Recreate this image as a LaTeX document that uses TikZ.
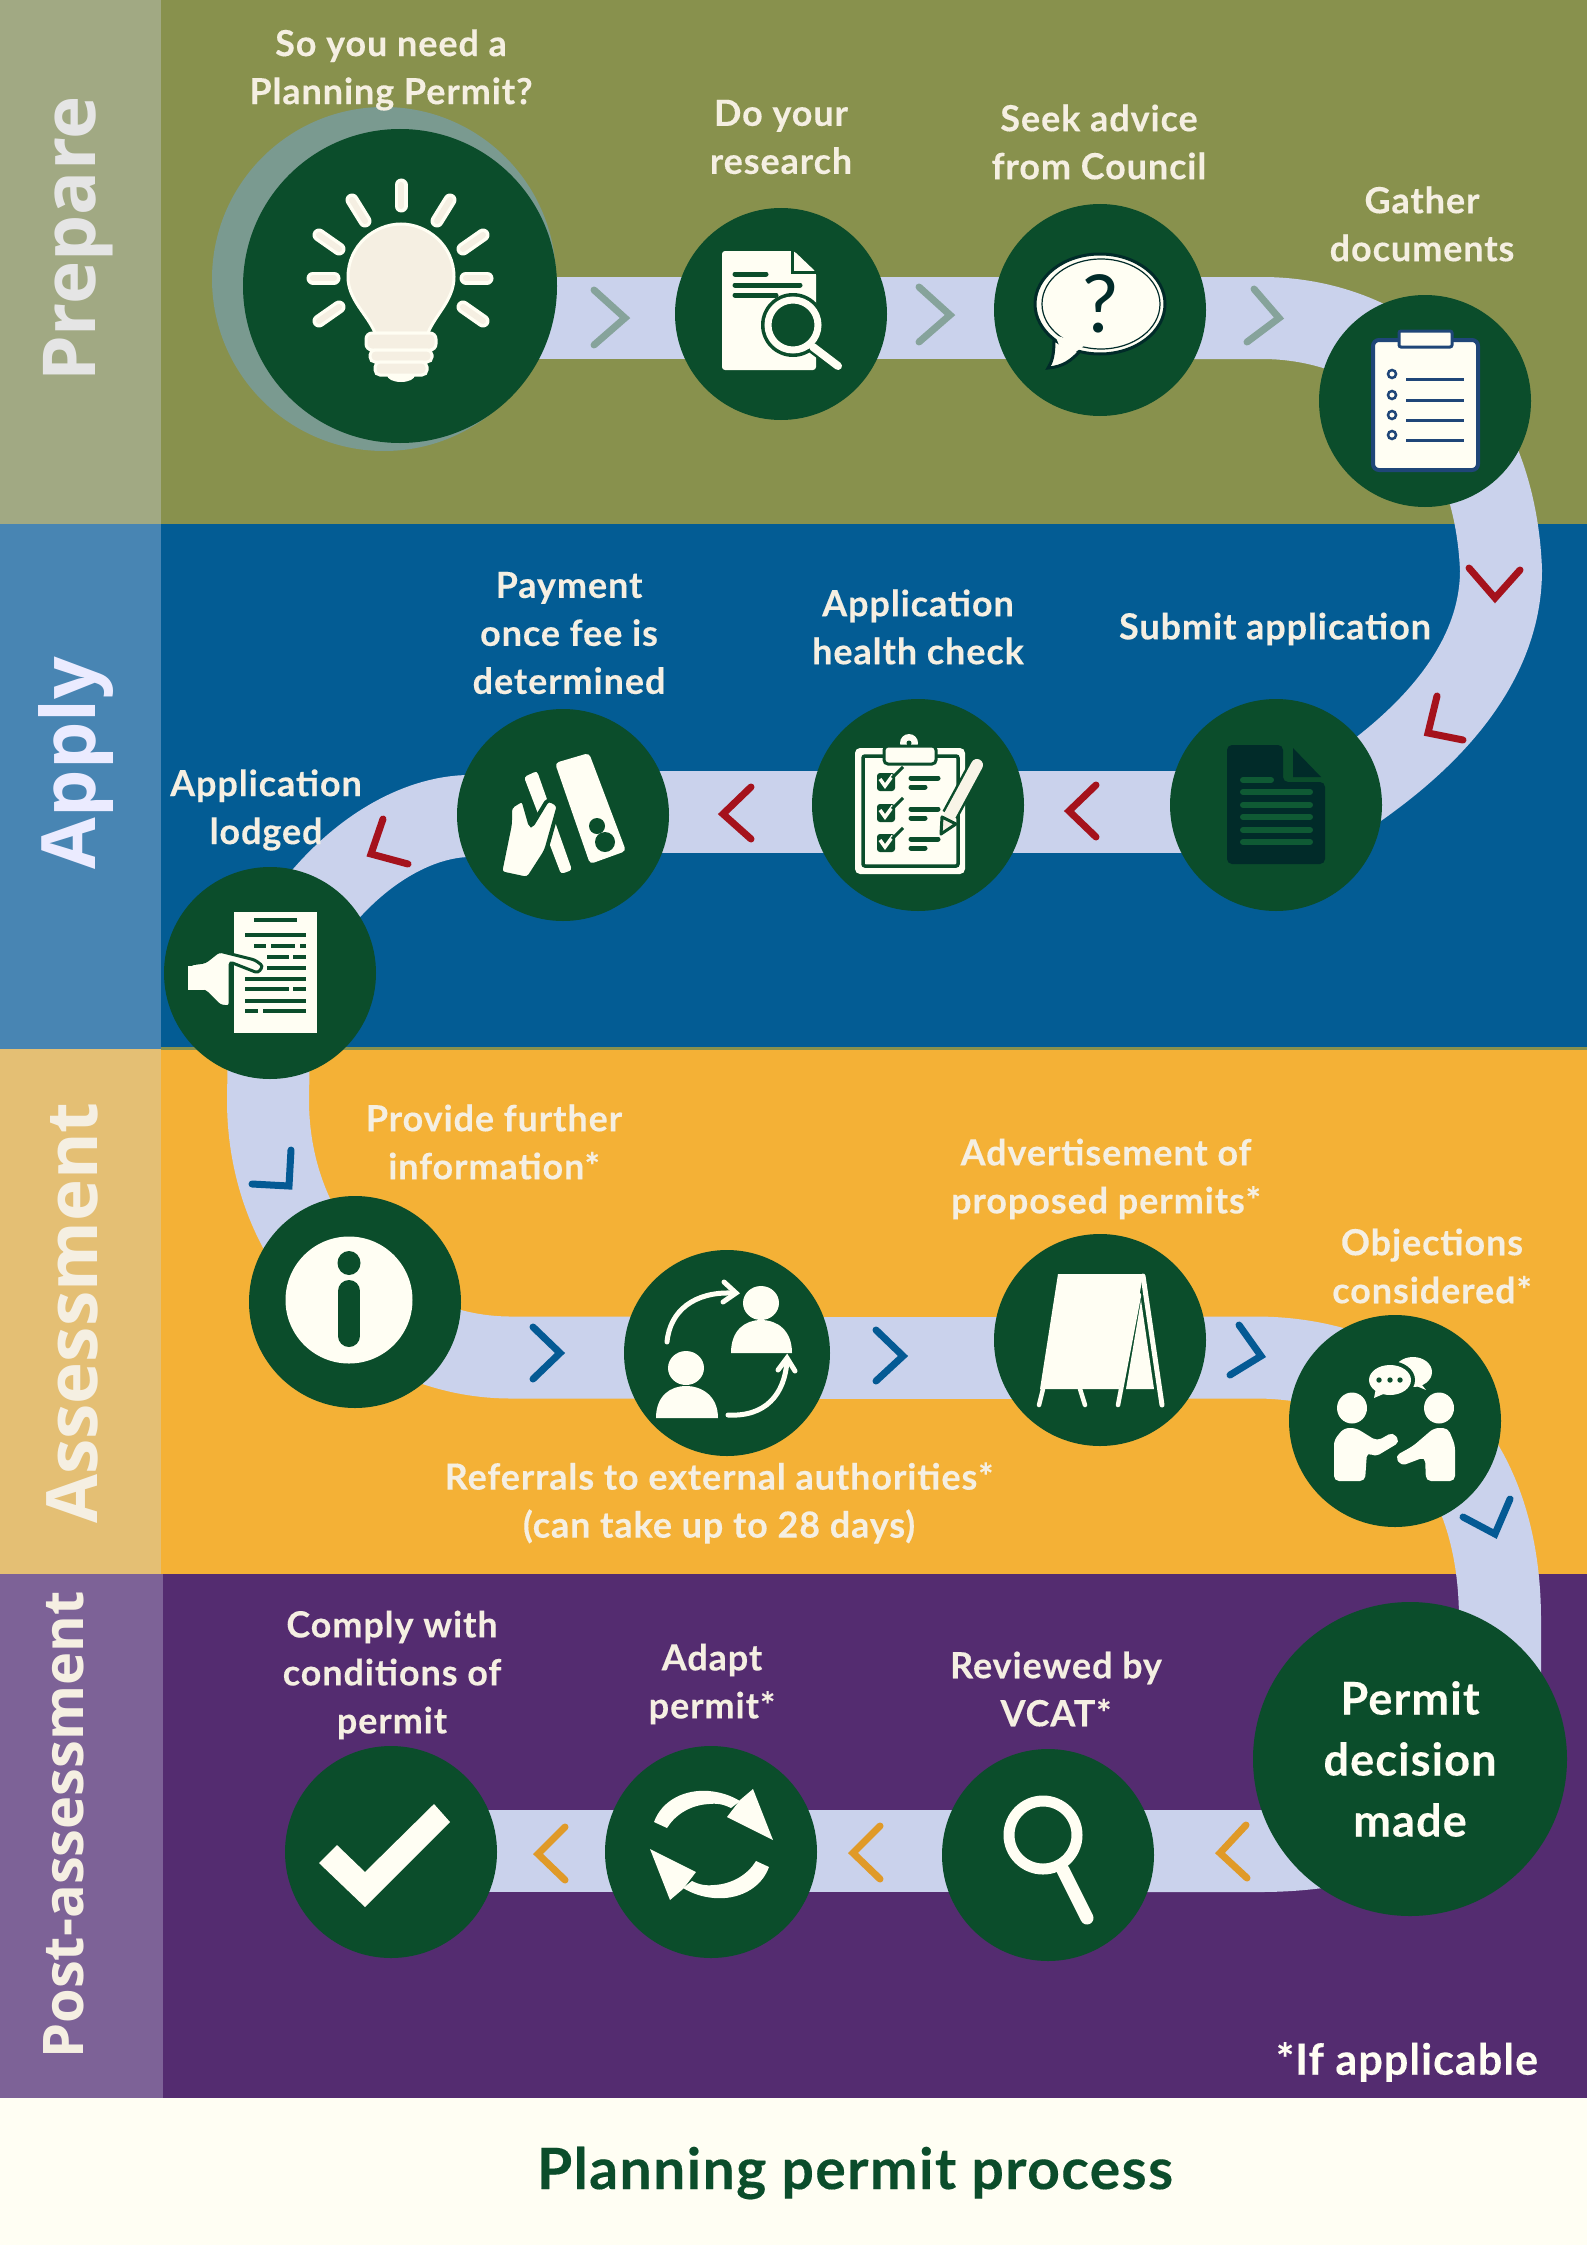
\documentclass[tikz,border=0pt]{standalone}
\usepackage{fontspec}
\setmainfont{Lato}[LetterSpace=2.5,BoldFeatures={FakeBold=0.25}]
\newfontfamily\sidefont{Open Sans}
\definecolor{olive}{HTML}{88914D}
\definecolor{olivepanel}{HTML}{A1A983}
\definecolor{bluebg}{HTML}{035C94}
\definecolor{bluepanel}{HTML}{4885B3}
\definecolor{amber}{HTML}{F4B136}
\definecolor{amberpanel}{HTML}{E4BF74}
\definecolor{plum}{HTML}{542C70}
\definecolor{plumpanel}{HTML}{7D6297}
\definecolor{paper}{HTML}{FFFEF3}
\definecolor{cream}{HTML}{F5EFE2}
\definecolor{stepgreen}{HTML}{0B4D2B}
\definecolor{roadblue}{HTML}{CAD2EC}
\definecolor{sage}{HTML}{86A39B}
\definecolor{crimson}{HTML}{A5121C}
\definecolor{chevblue}{HTML}{045A94}
\definecolor{chevamber}{HTML}{E09A28}
\definecolor{clipblue}{HTML}{1F4678}
\definecolor{inkdark}{HTML}{012B29}
\definecolor{inkgreen}{HTML}{0F5A34}
\pgfdeclarelayer{bands}
\pgfdeclarelayer{road}
\pgfsetlayers{bands,road,main}
\tikzset{
 stepdot/.style={circle,fill=stepgreen,minimum size=212pt,inner sep=0pt},
 stepbig/.style={circle,fill=stepgreen,minimum size=314pt,inner sep=0pt},
 steplabel/.style={align=center,text=cream,inner sep=0pt,font=\fontsize{36}{48}\selectfont\bfseries},
 sidelabel/.style={rotate=90,anchor=base,inner sep=0pt},
 roadline/.style={draw=roadblue,line width=82pt,line join=round},
 chev/.style={line width=7pt,line cap=round,miter limit=10},
 inkline/.style={stepgreen,line width=5pt,line cap=round},
 ray/.style={paper,line width=13pt,line cap=round},
 rayin/.style={cream,line width=6pt,line cap=round},
}
\begin{document}
\begin{tikzpicture}[x=1pt,y=-1pt]
 \useasboundingbox (0,0) rectangle (1587,2245);
 \begin{pgfonlayer}{bands}
 \fill[olive](0,0) rectangle (1587,524);
 \fill[bluebg](0,524) rectangle (1587,1049);
 \fill[amber](0,1049) rectangle (1587,1574);
 \fill[plum](0,1574) rectangle (1587,2098);
 \fill[paper](0,2098) rectangle (1587,2245);
 \fill[olive](0,1047) rectangle (1587,1049.5);
 \fill[olivepanel](0,0) rectangle (161,524);
 \fill[bluepanel](0,524) rectangle (161,1049);
 \fill[amberpanel](0,1049) rectangle (161,1574);
 \fill[plumpanel](0,1574) rectangle (163,2098);
 \end{pgfonlayer}
 \node[sidelabel,text=white!90!black,font=\sidefont\fontsize{73}{80}\selectfont\bfseries] (prepare) at (95,239) {Prepare};
 \node[sidelabel,text=white!92!blue,font=\sidefont\fontsize{75}{80}\selectfont\bfseries] (apply) at (95,763) {Apply};
 \node[sidelabel,text=cream,font=\sidefont\fontsize{71}{80}\selectfont\bfseries] (assessment) at (97,1313) {Assessment};
 \node[sidelabel,text=cream,font=\sidefont\fontsize{56}{66}\selectfont\bfseries] (postassessment) at (83,1825) {Post-assessment};
 \node[circle,fill=sage!90!stepgreen,minimum size=344pt,inner sep=0pt] (ideashadow) at (384,279) {};
 \node[stepbig] (idea) at (400,286) {};
 \node[stepdot] (research) at (781,314) {};
 \node[stepdot] (advice) at (1100,310) {};
 \node[stepdot] (docs) at (1425,401) {};
 \node[stepdot] (submit) at (1276,805) {};
 \node[stepdot] (healthcheck) at (918,805) {};
 \node[stepdot] (payment) at (563,815) {};
 \node[stepdot] (lodged) at (270,973) {};
 \node[stepdot] (info) at (355,1302) {};
 \node[stepdot,minimum size=206pt] (referrals) at (727,1353) {};
 \node[stepdot] (advert) at (1100,1340) {};
 \node[stepdot] (objections) at (1395,1421) {};
 \node[stepbig] (decision) at (1410,1759) {};
 \node[stepdot] (vcat) at (1048,1855) {};
 \node[stepdot] (adapt) at (711,1852) {};
 \node[stepdot] (comply) at (391,1852) {};
 \coordinate (rowA) at (0,318);
 \coordinate (rowB) at (0,812);
 \coordinate (rowC) at (0,1357.5);
 \coordinate (rowD) at (0,1851);
 \coordinate (docsjoin) at (1423.5,380);
 \coordinate (infojoin) at (340.4,1285);
 \coordinate (objectionsjoin) at (1428.1,1421.25);
 \begin{pgfonlayer}{road}
 \draw[roadline](idea |- rowA) -- (research |- rowA);
 \draw[roadline](research |- rowA) -- (advice |- rowA);
 \draw[roadline](advice |- rowA) -- (1262,318) .. controls (1321.5,318) and (1379.5,338.5) .. (docsjoin);
 \draw[roadline](docsjoin) .. controls (1467.5,422) and (1497.5,485) .. (1501,570) .. controls (1501,650) and (1449,730) .. (1331,805) -- (submit |- rowB);
 \draw[roadline](submit |- rowB) -- (healthcheck |- rowB);
 \draw[roadline](healthcheck |- rowB) -- (payment |- rowB);
 \draw[roadline](payment |- rowB) -- (470,816) .. controls (420,816) and (345,850) .. (285,950) -- (lodged.center);
 \draw[roadline](lodged.center) -- (268,1100) .. controls (268,1175) and (296,1239.4) .. (infojoin);
 \draw[roadline](infojoin) .. controls (384.75,1330.6) and (445.5,1357.5) .. (511,1357.5) -- (referrals |- rowC);
 \draw[roadline](referrals |- rowC) -- (advert |- rowC);
 \draw[roadline](advert |- rowC) -- (1255,1357.5) .. controls (1322.5,1357.5) and (1383.75,1378.1) .. (objectionsjoin);
 \draw[roadline](objectionsjoin) .. controls (1472.5,1464.4) and (1500,1530) .. (1500,1620) -- (1500,1700) -- (decision.center);
 \draw[roadline](decision.center) -- (1500,1700) .. controls (1500,1790) and (1400,1851) .. (1260,1851) -- (vcat |- rowD);
 \draw[roadline](vcat |- rowD) -- (adapt |- rowD);
 \draw[roadline](adapt |- rowD) -- (comply |- rowD);
 \end{pgfonlayer}
 \draw[chev,sage](594,290)--(625,318)--(594,345);
 \draw[chev,sage](919,287)--(950,315)--(919,342);
 \draw[chev,sage](1254,289)--(1279,318)--(1247,342);
 \draw[chev,crimson](1469,568)--(1495,598)--(1520,570);
 \draw[chev,crimson](1437,696)--(1428,733)--(1463,740);
 \draw[chev,crimson](1096,785)--(1069,811)--(1096,837);
 \draw[chev,crimson](751,787)--(723,814)--(751,839);
 \draw[chev,crimson](383,819)--(371,854)--(408,864);
 \draw[chev,chevblue](291,1150)--(289,1186)--(252,1184);
 \draw[chev,chevblue](533,1327)--(560,1353)--(533,1379);
 \draw[chev,chevblue](876,1330)--(903,1356)--(876,1381);
 \draw[chev,chevblue](1239,1325)--(1261,1356)--(1230,1375);
 \draw[chev,chevblue](1510,1499)--(1495,1534)--(1463,1517);
 \draw[chev,chevamber](1246,1825)--(1220,1853)--(1247,1878);
 \draw[chev,chevamber](880,1826)--(853,1853)--(880,1879);
 \draw[chev,chevamber](565,1827)--(538,1854)--(565,1880);
 \node[steplabel] (ideatext) at (391,70) {So you need a\\Planning Permit?};
 \node[steplabel] (researchtext) at (781,137) {Do your\\research};
 \node[steplabel] (advicetext) at (1099,142) {Seek advice\\from Council};
 \node[steplabel] (docstext) at (1422,224) {Gather\\documents};
 \node[steplabel] (submittext) at (1275,629) {Submit application};
 \node[steplabel] (healthtext) at (918,627) {Application\\health check};
 \node[steplabel] (paymenttext) at (569,633) {Payment\\once fee is\\determined};
 \node[steplabel] (lodgedtext) at (266,810) {Application\\lodged};
 \node[steplabel] (infotext) at (494,1142) {Provide further\\information*};
 \node[steplabel] (adverttext) at (1106,1179) {Advertisement of\\proposed permits*};
 \node[steplabel] (objectionstext) at (1432,1266) {Objections\\considered*};
 \node[steplabel] (referralstext) at (719,1503) {Referrals to external authorities*\\(can take up to 28 days)};
 \node[steplabel,text=paper,font=\fontsize{45}{61}\selectfont\bfseries] (decisiontext) at (decision) {Permit\\decision\\made};
 \node[steplabel] (complytext) at (392,1675) {Comply with\\conditions of\\permit};
 \node[steplabel] (adapttext) at (712,1684) {Adapt\\permit*};
 \node[steplabel] (vcattext) at (1056,1689) {Reviewed by\\VCAT*};
 \node[steplabel,text=paper,font=\fontsize{43}{48}\selectfont\bfseries] (ifnote) at (1407,2062) {*If applicable};
 \node[steplabel,text=stepgreen,font=\fontsize{57}{60}\selectfont\bfseries] (title) at (855,2173) {Planning permit process};
 % bulb
 \foreach \a/\b/\c/\d in {401/185/401/206,352/200/365/221,450/200/437/221,319/235/339/249,483/235/463/249,313/278/334/278,487/278/466/278,319/321/339/307,483/321/463/307}{
  \draw[ray](\a,\b)--(\c,\d);
  \draw[rayin](\a,\b)--(\c,\d);
 }
 \draw[fill=cream,draw=paper,line width=3pt](401,224) .. controls (375,224) and (348,245) .. (348,277) .. controls (348,300) and (368,315) .. (375,333) -- (428,333) .. controls (435,315) and (454,300) .. (454,277) .. controls (454,245) and (427,224) .. (401,224) -- cycle;
 \fill[paper](401,375) ellipse (14pt and 7pt);
 \draw[fill=cream,draw=paper,line width=3pt,rounded corners=6pt](366,333) rectangle (436,350);
 \draw[fill=cream,draw=paper,line width=3pt,rounded corners=5pt](370,350) rectangle (432,362);
 \draw[fill=cream,draw=paper,line width=3pt,rounded corners=5pt](375,362) rectangle (427,375);
 % research
 \fill[paper,rounded corners=3pt](722,251)--(794,251)--(816,272)--(816,370)--(722,370)--cycle;
 \draw[stepgreen,line width=3pt](792,250)--(792,272)--(818,272);
 \draw[inkline](735,274)--(766,274);
 \draw[inkline](735,285)--(800,285);
 \draw[inkline](735,295)--(776,295);
 \fill[stepgreen](793,325) circle (32pt);
 \draw[stepgreen,line width=13pt,line cap=round](813,347)--(838,366);
 \draw[paper,line width=7pt](793,325) circle (25pt);
 \draw[paper,line width=8pt,line cap=round](813,347)--(838,366);
 % advice
 \begin{scope}[xshift=-5pt]
 \draw[fill=paper,draw=inkdark,line width=3pt](1059,340) .. controls (1059,355) and (1057,362) .. (1053,368) .. controls (1068,367) and (1077,360) .. (1085,351) -- cycle;
 \draw[fill=paper,draw=inkdark,line width=3pt](1105,304) ellipse (65pt and 50pt);
 \draw[draw=inkdark,line width=1.2pt](1106,304) ellipse (59pt and 45pt);
 \fill[paper](1060,335)--(1090,345)--(1070,360)--cycle;
 \node[inner sep=0pt,text=inkdark,font=\fontsize{80}{80}\selectfont] (question) at (1105,304) {?};
 \end{scope}
 % clipboard
 \begin{scope}[xshift=-10pt]
 \draw[fill=paper,draw=clipblue,line width=4pt,rounded corners=6pt](1383,340) rectangle (1488,470);
 \draw[fill=paper,draw=clipblue,line width=3pt,rounded corners=2pt](1409,331) rectangle (1462,347);
 \foreach \y in {374,395,415,435}{
  \draw[clipblue,line width=2.5pt](1402,\y) circle (4pt);
  \draw[clipblue,line width=3pt](1416,\y+5)--(1474,\y+5);
 }
 \end{scope}
 % submit
 \begin{scope}[xshift=-8pt]
 \fill[inkdark,rounded corners=5pt](1235,745)--(1291,745)--(1291,782)--(1333,782)--(1333,864)--(1235,864)--cycle;
 \fill[inkdark](1301,748)--(1329,777)--(1301,777)--cycle;
 \draw[inkgreen,line width=6pt,line cap=round](1251,780)--(1279,780);
 \foreach \y in {792,805,817,830,842}{
  \draw[inkgreen,line width=6pt,line cap=round](1251,\y)--(1318,\y);
 }
 \end{scope}
 % health check
 \begin{scope}[xshift=-2pt]
 \fill[paper,rounded corners=5pt](857,748) rectangle (967,874);
 \draw[stepgreen,line width=3.5pt,rounded corners=2pt](865,756) rectangle (960,866);
 \fill[paper](911,743) circle (9pt);
 \fill[stepgreen](911,743) circle (2.5pt);
 \draw[fill=paper,draw=stepgreen,line width=3pt,rounded corners=4pt](886,746) rectangle (938,764);
 \foreach \y in {773,804,834}{
  \fill[stepgreen,rounded corners=3pt](879,\y) rectangle (897,\y+18);
  \draw[paper,line width=3.5pt](882,\y+6)--(887,\y+13)--(895,\y+2);
  \draw[stepgreen,line width=3pt](894,\y+5)--(905,\y-6);
  \draw[inkline](913,\y+5)--(940,\y+5);
  \draw[inkline](913,\y+14)--(927,\y+14);
 }
 \draw[stepgreen,line width=17pt](979,765)--(952,815);
 \draw[cream!70!paper,line width=12pt,line cap=round](979,765)--(952,815);
 \draw[fill=cream,draw=stepgreen,line width=3pt,line join=round](944,817)--(943,834)--(958,824)--cycle;
 \end{scope}
 % payment
 \fill[paper,rounded corners=4pt](555,763)--(589,753)--(626,851)--(590,864)--cycle;
 \fill[stepgreen](597,826) circle (8pt);
 \fill[stepgreen](605,842) circle (10pt);
 \fill[paper,rounded corners=3pt](524,777)--(537,771)--(572,870)--(561,874)--cycle;
 \draw[fill=paper,draw=stepgreen,line width=4pt,rounded corners=4pt](500,873)--(510,824)--(510,807)--(523,799)--(531,827)--(548,799)--(559,805)--(546,851)--(528,879)--cycle;
 % lodged
 \fill[paper](234,912) rectangle (317,1033);
 \foreach \y/\p/\q in {920/254/297,935/245/306,946/254/266,946/271/295,946/300/306,957/267/289,957/293/306,968/267/306,979/245/306,989/245/289,989/293/306,1001/245/306,1011/245/258,1011/263/306}{
  \draw[stepgreen,line width=4.5pt](\p,\y)--(\q,\y);
 }
 \draw[fill=paper,draw=stepgreen,line width=3pt,rounded corners=3pt](190,964)--(205,962)--(219,951)--(255,960)--(263,966)--(258,973)--(230,962)--(230,1007)--(220,1006)--(205,991)--(190,991)--cycle;
 \fill[paper](188,966) rectangle (204,990);
 % info
 \fill[paper](349,1300) circle (63.5pt);
 \fill[stepgreen](349,1263) ellipse (11.5pt and 12pt);
 \draw[stepgreen,line width=22pt,line cap=round](349,1291)--(349,1336);
 % referrals
 \fill[paper](761,1303) ellipse (18pt and 17pt);
 \fill[paper](731,1353) .. controls (731,1330) and (745,1320) .. (761,1320) .. controls (777,1320) and (792,1330) .. (792,1353) -- cycle;
 \fill[paper](686,1368) ellipse (18pt and 17pt);
 \fill[paper](656,1418) .. controls (656,1396) and (670,1386) .. (686,1386) .. controls (702,1386) and (718,1396) .. (718,1418) -- cycle;
 \draw[paper,line width=5pt,line cap=round](667,1342) .. controls (670,1310) and (695,1292) .. (731,1293);
 \draw[paper,line width=5pt,line cap=round](724,1282)--(736,1293)--(723,1302);
 \draw[paper,line width=5pt,line cap=round](728,1415) .. controls (765,1417) and (785,1395) .. (787,1360);
 \draw[paper,line width=5pt,line cap=round](778,1370)--(787,1358)--(795,1371);
 % easel
 \fill[paper](1058,1274)--(1143,1274)--(1140,1292)--(1119,1389)--(1040,1389)--cycle;
 \fill[paper](1141,1300)--(1154,1389)--(1126,1389)--cycle;
 \draw[paper,line width=5pt,line cap=round](1143,1276)--(1162,1405);
 \draw[paper,line width=4.5pt,line cap=round](1043,1389)--(1039,1405);
 \draw[paper,line width=4.5pt,line cap=round](1080,1389)--(1085,1405);
 \draw[paper,line width=4.5pt,line cap=round](1139,1295)--(1118,1405);
 % objections
 \fill[paper](1413,1372) ellipse (19pt and 15pt);
 \fill[paper](1418,1380)--(1426,1390)--(1414,1385)--cycle;
 \fill[stepgreen](1390,1380) ellipse (25pt and 19pt);
 \fill[paper](1390,1380) ellipse (21pt and 15pt);
 \fill[paper](1376,1388)--(1374,1398)--(1388,1392)--cycle;
 \foreach \x in {1379,1390,1400}{
  \fill[stepgreen](\x,1380) circle (2.7pt);
 }
 \fill[paper](1352,1408) ellipse (15pt and 15.5pt);
 \fill[paper](1439,1408) ellipse (15pt and 15.5pt);
 \fill[paper,rounded corners=5pt](1334,1481)--(1334,1440)--(1344,1428)--(1356,1428)--(1377,1441)--(1393,1432)--(1400,1442)--(1375,1457)--(1367,1452)--(1365,1481)--cycle;
 \fill[paper,rounded corners=5pt](1455,1481)--(1426,1481)--(1425,1457)--(1401,1466)--(1395,1456)--(1413,1446)--(1434,1428)--(1448,1428)--(1455,1445)--cycle;
 % magnifier
 \draw[paper,line width=11pt](1043,1835) circle (34pt);
 \draw[paper,line width=13pt,line cap=round](1063,1870)--(1087,1918);
 % adapt
 \foreach \a in {0,180}{
  \begin{scope}[rotate around={\a:(711.5,1844.5)}]
  \fill[paper](654,1822) .. controls (662,1800) and (685,1789) .. (709,1791) .. controls (720,1792) and (730,1795) .. (740,1801) -- (731,1808) .. controls (723,1804) and (716,1803) .. (709,1804) .. controls (690,1805) and (675,1815) .. (667,1828) -- cycle;
  \fill[paper](753,1789)--(773,1840)--(727,1817)--(740,1800)--cycle;
  \end{scope}
 }
 % comply
 \fill[paper](337,1845)--(365,1872)--(434,1804)--(450,1822)--(365,1907)--(319,1863)--cycle;
\end{tikzpicture}
\end{document}
